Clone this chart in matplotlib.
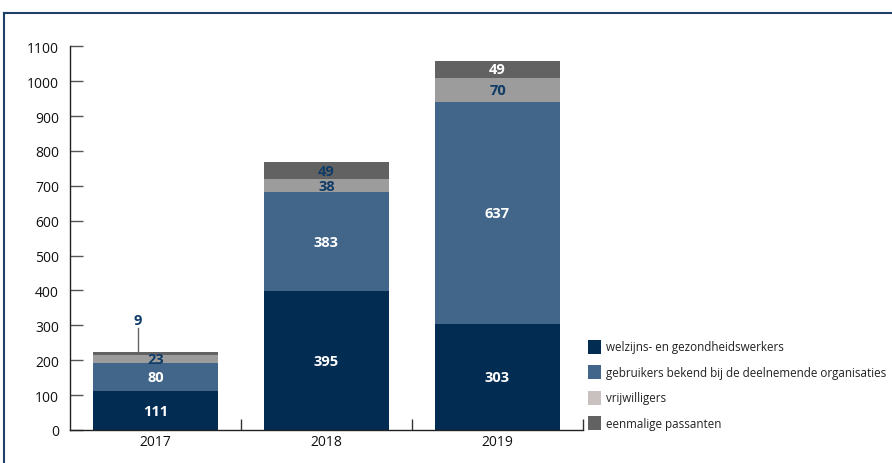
import matplotlib
matplotlib.use("Agg")
import matplotlib.pyplot as plt
from matplotlib.patches import Patch
from matplotlib.lines import Line2D

years = ["2017", "2018", "2019"]
# segment heights as drawn in the reference
welzijn = [111, 398, 303]
gebruikers = [80, 284, 637]
vrijwilligers = [23, 37, 70]
passanten = [9, 49, 49]
# printed value labels (the reference prints 383 / 395 on the 2018 bar)
welzijn_labels = ["111", "395", "303"]
gebruikers_labels = ["80", "383", "637"]
vrijwilligers_labels = ["23", "38", "70"]
passanten_labels = ["9", "49", "49"]
series_names = ["welzijns- en gezondheidswerkers",
                "gebruikers bekend bij de deelnemende organisaties",
                "vrijwilligers", "eenmalige passanten"]
yticks = [0, 100, 200, 300, 400, 500, 600, 700, 800, 900, 1000, 1100]

c_navy = "#022c52"
c_blue = "#416689"
c_lgray = "#9c9c9c"
c_legend_lgray = "#c9c1c0"
c_dgray = "#626262"
c_text = "#0f3b66"

plt.rcParams['font.family'] = ['Open Sans', 'DejaVu Sans']

fig = plt.figure(figsize=(8.92, 4.64), dpi=100)
ax = fig.add_axes([70/892, 33/464, (583-70)/892, (431-47.3)/464])

x = list(range(len(years)))
w = 0.73
b1 = welzijn
b2 = [a + b for a, b in zip(b1, gebruikers)]
b3 = [a + b for a, b in zip(b2, vrijwilligers)]
ax.bar(x, welzijn, w, color=c_navy)
ax.bar(x, gebruikers, w, bottom=b1, color=c_blue)
ax.bar(x, vrijwilligers, w, bottom=b2, color=c_lgray)
ax.bar(x, passanten, w, bottom=b3, color=c_dgray)

fs = 10.5
pass_colors = [c_text, c_text, 'white']
for i in x:
    ax.text(i, welzijn[i] / 2, welzijn_labels[i], ha='center', va='center',
            color='white', fontsize=fs, fontweight='bold')
    ax.text(i, b1[i] + gebruikers[i] / 2, gebruikers_labels[i], ha='center', va='center',
            color='white', fontsize=fs, fontweight='bold')
    ax.text(i, b2[i] + vrijwilligers[i] / 2, vrijwilligers_labels[i], ha='center', va='center',
            color=c_text, fontsize=fs, fontweight='bold')
    if passanten[i] >= 20:
        ax.text(i, b3[i] + passanten[i] / 2, passanten_labels[i], ha='center', va='center',
                color=pass_colors[i], fontsize=fs, fontweight='bold')
    else:
        top = b3[i] + passanten[i]
        ax.plot([i - 0.104, i - 0.104], [top, top + 70], color='#666666', lw=1)
        ax.text(i - 0.104, top + 92, passanten_labels[i], ha='center', va='center',
                color=c_text, fontsize=fs, fontweight='bold')

ax.set_xlim(-0.5, 2.5)
ax.set_ylim(0, 1100)
ax.set_yticks(yticks)
ax.set_xticks(x)
ax.set_xticklabels(years)
ax.set_xticks([0.5, 1.5, 2.5], minor=True)
ax.tick_params(axis='y', direction='in', length=9.5, width=1, labelsize=10, pad=8,
               color='#555555', labelcolor='#111111')
ax.tick_params(axis='x', which='major', length=0, labelsize=10, pad=3, labelcolor='#111111')
ax.tick_params(axis='x', which='minor', direction='in', length=8, width=1, color='#333333')
for s in ['top', 'right']:
    ax.spines[s].set_visible(False)
for s in ['left', 'bottom']:
    ax.spines[s].set_linewidth(1)
    ax.spines[s].set_color('#222222')

handles = [Patch(facecolor=c) for c in [c_navy, c_blue, c_legend_lgray, c_dgray]]
fig.legend(handles, series_names, loc='upper left',
           bbox_to_anchor=(583/892, 1 - 336/464), frameon=False,
           fontsize=8.4, handlelength=1.15, handleheight=1.45, handletextpad=0.45,
           labelspacing=1.0, borderaxespad=0, labelcolor='#222222')

border_c = "#1d3f68"
fig.add_artist(Line2D([4/892, 1.0], [1 - 14/464, 1 - 14/464], color=border_c, lw=1.5))
fig.add_artist(Line2D([4/892, 4/892], [0, 1 - 14/464], color=border_c, lw=1.5))

fig.savefig("out.png", dpi=100)
